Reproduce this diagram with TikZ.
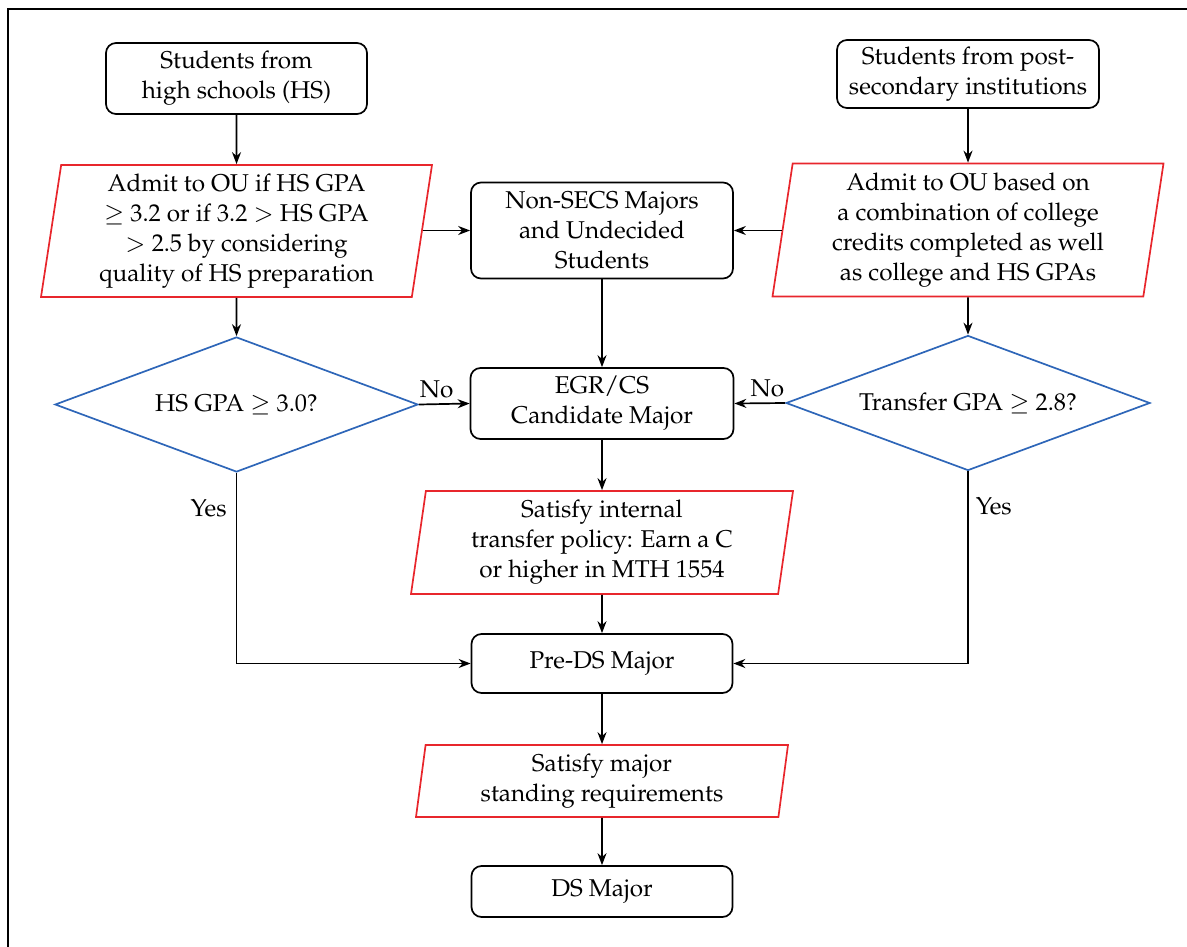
\documentclass[tikz,border=0pt]{standalone}
\usepackage[T1]{fontenc}
\usepackage{mathpazo}
\usetikzlibrary{shapes.geometric,arrows.meta}
\definecolor{redline}{HTML}{E8262C}
\definecolor{blueline}{HTML}{2E66B8}
\begin{document}
\begin{tikzpicture}[x=1pt,y=-1pt,
  every node/.style={font=\fontsize{24.3}{30}\selectfont, align=center, inner sep=0pt},
  boxnode/.style={draw=black, line width=1.7pt, rounded corners=10pt, rectangle},
  paranode/.style={draw=redline, line width=1.7pt, trapezium, trapezium left angle=80, trapezium right angle=100, trapezium stretches body},
  decnode/.style={draw=blueline, line width=1.7pt, diamond, aspect=2.7},
  arr/.style={-{Stealth[length=12pt,width=9pt]}, line width=1.7pt},
  lbl/.style={font=\fontsize{24.3}{30}\selectfont}
]
\useasboundingbox (0,0) rectangle (1187,947);
\draw[line width=1.9pt] (8,947) -- (8,9) -- (1187,9);

\node[boxnode, minimum width=261pt, minimum height=71pt] (hs) at (236.5,78.5) {Students from\\high schools (HS)};
\node[boxnode, minimum width=262pt, minimum height=68pt] (ps) at (968,74) {Students from post-\\secondary institutions};
\node[paranode, minimum width=391pt, minimum height=132pt] (p1) at (236.5,231) {Admit to OU if HS GPA\\$\geq$ 3.2 or if 3.2 $>$ HS GPA\\$>$ 2.5 by considering\\quality of HS preparation};
\node[paranode, minimum width=391pt, minimum height=133pt] (p2) at (968,230) {Admit to OU based on\\a combination of college\\credits completed as well\\as college and HS GPAs};
\node[boxnode, minimum width=262pt, minimum height=96pt] (ns) at (602,230.5) {Non-SECS Majors\\and Undecided\\Students};
\node[decnode, minimum width=363pt, minimum height=135pt] (d1) at (236.5,404.5) {HS GPA $\geq$ 3.0?};
\node[boxnode, minimum width=263pt, minimum height=71pt] (egr) at (602,403.5) {EGR/CS\\Candidate Major};
\node[decnode, minimum width=364pt, minimum height=135pt] (d2) at (968,403) {Transfer GPA $\geq$ 2.8?};
\node[paranode, minimum width=382pt, minimum height=103pt] (p3) at (602,542.5) {Satisfy internal\\transfer policy: Earn a C\\or higher in MTH 1554};
\node[boxnode, minimum width=261pt, minimum height=59pt] (pre) at (602,663.5) {Pre-DS Major};
\node[paranode, minimum width=372pt, minimum height=72pt] (p4) at (602,781) {Satisfy major\\standing requirements};
\node[boxnode, minimum width=261pt, minimum height=51pt] (ds) at (602,891.5) {DS Major};

\draw[arr] (hs.south) -- (p1.north);
\draw[arr] (ps.south) -- (p2.north);
\draw[arr] (p1.east |- ns.west) -- (ns.west);
\draw[arr] (p2.west |- ns.east) -- (ns.east);
\draw[arr] (ns.south) -- (egr.north);
\draw[arr] (p1.south) -- (d1.north);
\draw[arr] (p2.south) -- (d2.north);
\draw[arr] (d1.east) -- node[lbl, above, pos=0.35, yshift=5pt] (no1) {No} (egr.west);
\draw[arr] (d2.west) -- node[lbl, above, pos=0.35, yshift=5pt] (no2) {No} (egr.east);
\draw[arr] (d1.south) |- node[lbl, left, pos=0.094, xshift=-9pt] (yes1) {Yes} (pre.west);
\draw[arr] (d2.south) |- node[lbl, right, pos=0.09, xshift=7pt] (yes2) {Yes} (pre.east);
\draw[arr] (egr.south) -- (p3.north);
\draw[arr] (p3.south) -- (pre.north);
\draw[arr] (pre.south) -- (p4.north);
\draw[arr] (p4.south) -- (ds.north);
\end{tikzpicture}
\end{document}
